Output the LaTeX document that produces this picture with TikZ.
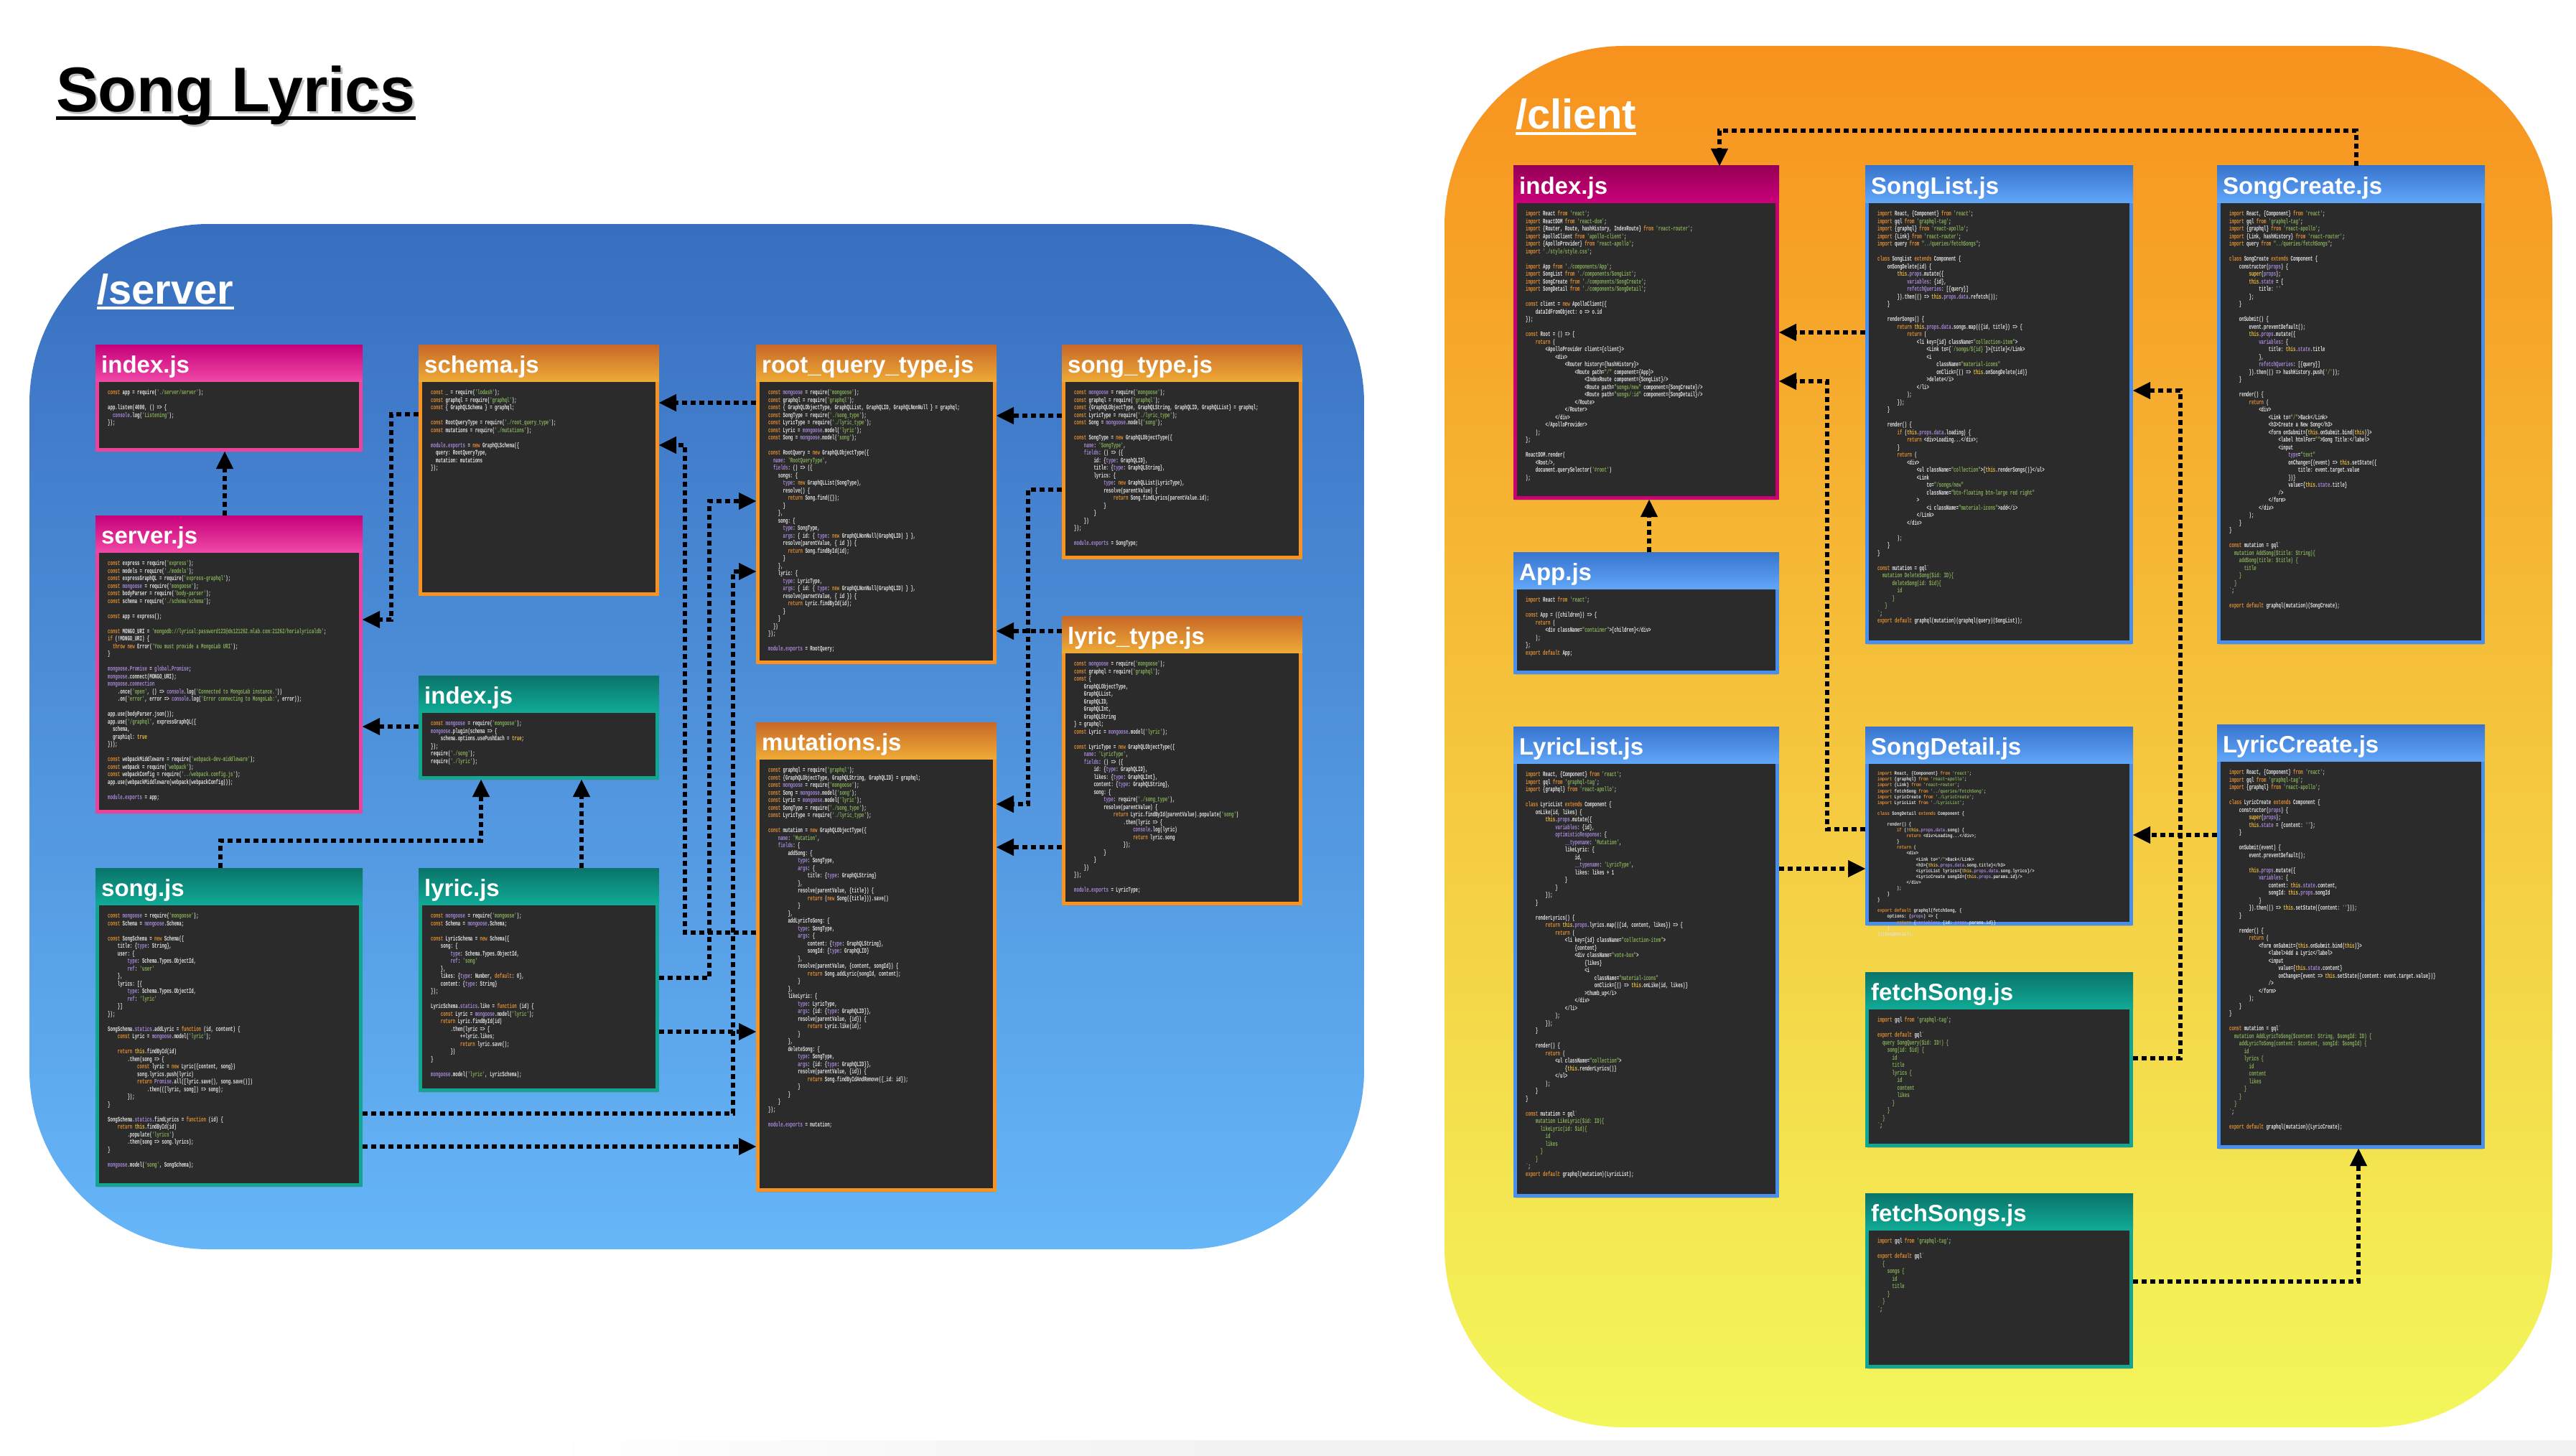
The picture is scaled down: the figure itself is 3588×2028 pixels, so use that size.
\documentclass[tikz,border=0pt]{standalone}
\usepackage{fontspec}
\setmainfont{Liberation Sans}
\setmonofont[FakeStretch=0.6]{Liberation Mono}
\newfontfamily\codesmall[FakeStretch=0.8]{Liberation Mono}
\usepackage{listings}
\usetikzlibrary{arrows.meta,shadows}

% ---------- colours ----------
\definecolor{codebg}{RGB}{43,43,43}
\definecolor{codetext}{RGB}{226,226,226}
\definecolor{codekw}{RGB}{222,140,50}
\definecolor{codethis}{RGB}{236,186,64}
\definecolor{codeprop}{RGB}{166,134,216}
\definecolor{codestr}{RGB}{132,172,88}
\definecolor{srvtop}{RGB}{56,110,191}
\definecolor{srvbot}{RGB}{102,182,248}
\definecolor{clitop}{RGB}{247,146,30}
\definecolor{climid}{RGB}{248,198,48}
\definecolor{clibot}{RGB}{243,247,92}
\definecolor{pinktop}{RGB}{198,0,122}
\definecolor{pinkbot}{RGB}{240,72,166}
\definecolor{pinkline}{RGB}{236,66,156}
\definecolor{plumtop}{RGB}{150,0,86}
\definecolor{plumbot}{RGB}{202,0,122}
\definecolor{plumline}{RGB}{200,0,112}
\definecolor{ambertop}{RGB}{200,104,40}
\definecolor{amberbot}{RGB}{238,170,54}
\definecolor{amberline}{RGB}{247,147,30}
\definecolor{tealtop}{RGB}{10,116,106}
\definecolor{tealbot}{RGB}{16,170,150}
\definecolor{tealline}{RGB}{18,166,146}
\definecolor{bluetop}{RGB}{56,116,206}
\definecolor{bluebot}{RGB}{96,166,248}
\definecolor{blueline}{RGB}{72,142,236}
\definecolor{floorgray}{RGB}{242,242,242}

% ---------- code listings ----------
\lstdefinelanguage{js}{
  morekeywords=[1]{import,from,const,new,return,class,extends,export,default,if,throw,function},
  morekeywords=[2]{this,super,true,false},
  morekeywords=[3]{mongoose,console,module,exports,props,state,data,variables,refetchQueries,
    optimisticResponse,__typename,statics,Promise,global,connection,name,fields,type,args,ref},
  morestring=[b]',
  morestring=[b]",
  morecomment=[s]{`}{`},
  sensitive=true
}
\lstset{
  language=js,
  basicstyle=\ttfamily\bfseries\fontsize{9.5pt}{10.5pt}\selectfont\color{codetext},
  keywordstyle=[1]{\color{codekw}},
  keywordstyle=[2]{\color{codethis}},
  keywordstyle=[3]{\color{codeprop}},
  stringstyle=\color{codestr},
  commentstyle=\color{codestr},
  columns=fixed, basewidth=3.42pt, keepspaces=true,
  showstringspaces=false, breaklines=false,
  aboveskip=0pt, belowskip=0pt, xleftmargin=0pt, frame=none, numbers=none
}

% ---------- one file card: name, x, y, width, height, theme, title, code ----------
\newcommand\filebox[8]{%
  \node[filebody, draw=#6line, minimum width={(#4-5)*1pt}, minimum height={(#5-5)*1pt}]
    (#1) at ({#2+#4/2},{#3+#5/2}) {};
  \node[filehead, top color=#6top, bottom color=#6bot, minimum width=#4pt]
    (#1-head) at (#2,#3) {};
  \node[filetitle] (#1-title) at ({#2+8},{#3+39}) {#7};
  \node[filecode] (#1-code) at ({#2+17},{#3+62}) {\usebox{#8}};
}

\begin{document}

% ================= server code =================
\newsavebox\cdSIndex
\begin{lrbox}{\cdSIndex}\begin{minipage}[t]{360pt}
\begin{lstlisting}
const app = require('./server/server');

app.listen(4000, () => {
  console.log('Listening');
});
\end{lstlisting}
\end{minipage}\end{lrbox}

\newsavebox\cdSServer
\begin{lrbox}{\cdSServer}\begin{minipage}[t]{360pt}
\begin{lstlisting}
const express = require('express');
const models = require('./models');
const expressGraphQL = require('express-graphql');
const mongoose = require('mongoose');
const bodyParser = require('body-parser');
const schema = require('./schema/schema');

const app = express();

const MONGO_URI = 'mongodb://lyrical:password123@ds121262.mlab.com:21262/horialyricaldb';
if (!MONGO_URI) {
  throw new Error('You must provide a MongoLab URI');
}

mongoose.Promise = global.Promise;
mongoose.connect(MONGO_URI);
mongoose.connection
    .once('open', () => console.log('Connected to MongoLab instance.'))
    .on('error', error => console.log('Error connecting to MongoLab:', error));

app.use(bodyParser.json());
app.use('/graphql', expressGraphQL({
  schema,
  graphiql: true
}));

const webpackMiddleware = require('webpack-dev-middleware');
const webpack = require('webpack');
const webpackConfig = require('../webpack.config.js');
app.use(webpackMiddleware(webpack(webpackConfig)));

module.exports = app;
\end{lstlisting}
\end{minipage}\end{lrbox}

\newsavebox\cdSSchema
\begin{lrbox}{\cdSSchema}\begin{minipage}[t]{320pt}
\begin{lstlisting}
const _ = require('lodash');
const graphql = require('graphql');
const { GraphQLSchema } = graphql;

const RootQueryType = require('./root_query_type');
const mutations = require('./mutations');

module.exports = new GraphQLSchema({
  query: RootQueryType,
  mutation: mutations
});
\end{lstlisting}
\end{minipage}\end{lrbox}

\newsavebox\cdSModels
\begin{lrbox}{\cdSModels}\begin{minipage}[t]{320pt}
\begin{lstlisting}
const mongoose = require('mongoose');
mongoose.plugin(schema => {
    schema.options.usePushEach = true;
});
require('./song');
require('./lyric');
\end{lstlisting}
\end{minipage}\end{lrbox}

\newsavebox\cdSSong
\begin{lrbox}{\cdSSong}\begin{minipage}[t]{360pt}
\begin{lstlisting}
const mongoose = require('mongoose');
const Schema = mongoose.Schema;

const SongSchema = new Schema({
    title: {type: String},
    user: {
        type: Schema.Types.ObjectId,
        ref: 'user'
    },
    lyrics: [{
        type: Schema.Types.ObjectId,
        ref: 'lyric'
    }]
});

SongSchema.statics.addLyric = function (id, content) {
    const Lyric = mongoose.model('lyric');

    return this.findById(id)
        .then(song => {
            const lyric = new Lyric({content, song})
            song.lyrics.push(lyric)
            return Promise.all([lyric.save(), song.save()])
                .then(([lyric, song]) => song);
        });
}

SongSchema.statics.findLyrics = function (id) {
    return this.findById(id)
        .populate('lyrics')
        .then(song => song.lyrics);
}

mongoose.model('song', SongSchema);
\end{lstlisting}
\end{minipage}\end{lrbox}

\newsavebox\cdSLyric
\begin{lrbox}{\cdSLyric}\begin{minipage}[t]{320pt}
\begin{lstlisting}
const mongoose = require('mongoose');
const Schema = mongoose.Schema;

const LyricSchema = new Schema({
    song: {
        type: Schema.Types.ObjectId,
        ref: 'song'
    },
    likes: {type: Number, default: 0},
    content: {type: String}
});

LyricSchema.statics.like = function (id) {
    const Lyric = mongoose.model('lyric');
    return Lyric.findById(id)
        .then(lyric => {
            ++lyric.likes;
            return lyric.save();
        })
}

mongoose.model('lyric', LyricSchema);
\end{lstlisting}
\end{minipage}\end{lrbox}

\newsavebox\cdSRoot
\begin{lrbox}{\cdSRoot}\begin{minipage}[t]{320pt}
\begin{lstlisting}
const mongoose = require('mongoose');
const graphql = require('graphql');
const { GraphQLObjectType, GraphQLList, GraphQLID, GraphQLNonNull } = graphql;
const SongType = require('./song_type');
const LyricType = require('./lyric_type');
const Lyric = mongoose.model('lyric');
const Song = mongoose.model('song');

const RootQuery = new GraphQLObjectType({
  name: 'RootQueryType',
  fields: () => ({
    songs: {
      type: new GraphQLList(SongType),
      resolve() {
        return Song.find({});
      }
    },
    song: {
      type: SongType,
      args: { id: { type: new GraphQLNonNull(GraphQLID) } },
      resolve(parentValue, { id }) {
        return Song.findById(id);
      }
    },
    lyric: {
      type: LyricType,
      args: { id: { type: new GraphQLNonNull(GraphQLID) } },
      resolve(parnetValue, { id }) {
        return Lyric.findById(id);
      }
    }
  })
});

module.exports = RootQuery;
\end{lstlisting}
\end{minipage}\end{lrbox}

\newsavebox\cdSMut
\begin{lrbox}{\cdSMut}\begin{minipage}[t]{320pt}
\begin{lstlisting}
const graphql = require('graphql');
const {GraphQLObjectType, GraphQLString, GraphQLID} = graphql;
const mongoose = require('mongoose');
const Song = mongoose.model('song');
const Lyric = mongoose.model('lyric');
const SongType = require('./song_type');
const LyricType = require('./lyric_type');

const mutation = new GraphQLObjectType({
    name: 'Mutation',
    fields: {
        addSong: {
            type: SongType,
            args: {
                title: {type: GraphQLString}
            },
            resolve(parentValue, {title}) {
                return (new Song({title})).save()
            }
        },
        addLyricToSong: {
            type: SongType,
            args: {
                content: {type: GraphQLString},
                songId: {type: GraphQLID}
            },
            resolve(parentValue, {content, songId}) {
                return Song.addLyric(songId, content);
            }
        },
        likeLyric: {
            type: LyricType,
            args: {id: {type: GraphQLID}},
            resolve(parentValue, {id}) {
                return Lyric.like(id);
            }
        },
        deleteSong: {
            type: SongType,
            args: {id: {type: GraphQLID}},
            resolve(parentValue, {id}) {
                return Song.findByIdAndRemove({_id: id});
            }
        }
    }
});

module.exports = mutation;
\end{lstlisting}
\end{minipage}\end{lrbox}

\newsavebox\cdSSongType
\begin{lrbox}{\cdSSongType}\begin{minipage}[t]{320pt}
\begin{lstlisting}
const mongoose = require('mongoose');
const graphql = require('graphql');
const {GraphQLObjectType, GraphQLString, GraphQLID, GraphQLList} = graphql;
const LyricType = require('./lyric_type');
const Song = mongoose.model('song');

const SongType = new GraphQLObjectType({
    name: 'SongType',
    fields: () => ({
        id: {type: GraphQLID},
        title: {type: GraphQLString},
        lyrics: {
            type: new GraphQLList(LyricType),
            resolve(parentValue) {
                return Song.findLyrics(parentValue.id);
            }
        }
    })
});

module.exports = SongType;
\end{lstlisting}
\end{minipage}\end{lrbox}

\newsavebox\cdSLyricType
\begin{lrbox}{\cdSLyricType}\begin{minipage}[t]{320pt}
\begin{lstlisting}
const mongoose = require('mongoose');
const graphql = require('graphql');
const {
    GraphQLObjectType,
    GraphQLList,
    GraphQLID,
    GraphQLInt,
    GraphQLString
} = graphql;
const Lyric = mongoose.model('lyric');

const LyricType = new GraphQLObjectType({
    name: 'LyricType',
    fields: () => ({
        id: {type: GraphQLID},
        likes: {type: GraphQLInt},
        content: {type: GraphQLString},
        song: {
            type: require('./song_type'),
            resolve(parentValue) {
                return Lyric.findById(parentValue).populate('song')
                    .then(lyric => {
                        console.log(lyric)
                        return lyric.song
                    });
            }
        }
    })
});

module.exports = LyricType;
\end{lstlisting}
\end{minipage}\end{lrbox}

% ================= client code =================
\newsavebox\cdCIndex
\begin{lrbox}{\cdCIndex}\begin{minipage}[t]{360pt}
\begin{lstlisting}
import React from 'react';
import ReactDOM from 'react-dom';
import {Router, Route, hashHistory, IndexRoute} from 'react-router';
import ApolloClient from 'apollo-client';
import {ApolloProvider} from 'react-apollo';
import './style/style.css';

import App from './components/App';
import SongList from './components/SongList';
import SongCreate from './components/SongCreate';
import SongDetail from './components/SongDetail';

const client = new ApolloClient({
    dataIdFromObject: o => o.id
});

const Root = () => {
    return (
        <ApolloProvider client={client}>
            <div>
                <Router history={hashHistory}>
                    <Route path="/" component={App}>
                        <IndexRoute component={SongList}/>
                        <Route path="songs/new" component={SongCreate}/>
                        <Route path="songs/:id" component={SongDetail}/>
                    </Route>
                </Router>
            </div>
        </ApolloProvider>
    );
};

ReactDOM.render(
    <Root/>,
    document.querySelector('#root')
);
\end{lstlisting}
\end{minipage}\end{lrbox}

\newsavebox\cdCSongList
\begin{lrbox}{\cdCSongList}\begin{minipage}[t]{360pt}
\begin{lstlisting}
import React, {Component} from 'react';
import gql from 'graphql-tag';
import {graphql} from 'react-apollo';
import {Link} from 'react-router';
import query from "../queries/fetchSongs";

class SongList extends Component {
    onSongDelete(id) {
        this.props.mutate({
            variables: {id},
            refetchQueries: [{query}]
        }).then(() => this.props.data.refetch());
    }

    renderSongs() {
        return this.props.data.songs.map(({id, title}) => {
            return (
                <li key={id} className="collection-item">
                    <Link to={`/songs/${id}`}>{title}</Link>
                    <i
                        className="material-icons"
                        onClick={() => this.onSongDelete(id)}
                    >delete</i>
                </li>
            );
        });
    }

    render() {
        if (this.props.data.loading) {
            return <div>Loading...</div>;
        }
        return (
            <div>
                <ul className="collection">{this.renderSongs()}</ul>
                <Link
                    to="/songs/new"
                    className="btn-floating btn-large red right"
                >
                    <i className="material-icons">add</i>
                </Link>
            </div>

        );
    }
}

const mutation = gql`
  mutation DeleteSong($id: ID){
      deleteSong(id: $id){
        id
      }
   }
`;
export default graphql(mutation)(graphql(query)(SongList));
\end{lstlisting}
\end{minipage}\end{lrbox}

\newsavebox\cdCSongCreate
\begin{lrbox}{\cdCSongCreate}\begin{minipage}[t]{360pt}
\begin{lstlisting}
import React, {Component} from 'react';
import gql from 'graphql-tag';
import {graphql} from 'react-apollo';
import {Link, hashHistory} from 'react-router';
import query from "../queries/fetchSongs";

class SongCreate extends Component {
    constructor(props) {
        super(props);
        this.state = {
            title: ''
        };
    }

    onSubmit() {
        event.preventDefault();
        this.props.mutate({
            variables: {
                title: this.state.title
            },
            refetchQueries: [{query}]
        }).then(() => hashHistory.push('/'));
    }

    render() {
        return (
            <div>
                <Link to="/">Back</Link>
                <h3>Create a New Song</h3>
                <form onSubmit={this.onSubmit.bind(this)}>
                    <label htmlFor="">Song Title:</label>
                    <input
                        type="text"
                        onChange={(event) => this.setState({
                            title: event.target.value
                        })}
                        value={this.state.title}
                    />
                </form>
            </div>
        );
    }
}

const mutation = gql`
  mutation AddSong($title: String){
    addSong(title: $title) {
      title
    }
  }
`;

export default graphql(mutation)(SongCreate);
\end{lstlisting}
\end{minipage}\end{lrbox}

\newsavebox\cdCApp
\begin{lrbox}{\cdCApp}\begin{minipage}[t]{360pt}
\begin{lstlisting}
import React from 'react';

const App = ({children}) => {
    return (
        <div className="container">{children}</div>
    );
};
export default App;
\end{lstlisting}
\end{minipage}\end{lrbox}

\newsavebox\cdCLyricList
\begin{lrbox}{\cdCLyricList}\begin{minipage}[t]{360pt}
\begin{lstlisting}
import React, {Component} from 'react';
import gql from 'graphql-tag';
import {graphql} from 'react-apollo';

class LyricList extends Component {
    onLike(id, likes) {
        this.props.mutate({
            variables: {id},
            optimisticResponse: {
                __typename: 'Mutation',
                likeLyric: {
                    id,
                    __typename: 'LyricType',
                    likes: likes + 1
                }
            }
        });
    }

    renderLyrics() {
        return this.props.lyrics.map(({id, content, likes}) => {
            return (
                <li key={id} className="collection-item">
                    {content}
                    <div className="vote-box">
                        {likes}
                        <i
                            className="material-icons"
                            onClick={() => this.onLike(id, likes)}
                        >thumb_up</i>
                    </div>
                </li>
            );
        });
    }

    render() {
        return (
            <ul className="collection">
                {this.renderLyrics()}
            </ul>
        );
    }
}

const mutation = gql`
    mutation LikeLyric($id: ID){
      likeLyric(id: $id){
        id
        likes
      }
    }
`;
export default graphql(mutation)(LyricList);
\end{lstlisting}
\end{minipage}\end{lrbox}

\newsavebox\cdCSongDetail
\begin{lrbox}{\cdCSongDetail}\begin{minipage}[t]{360pt}
\begin{lstlisting}[basicstyle=\codesmall\bfseries\fontsize{7pt}{6.8pt}\selectfont\color{codetext},basewidth=3.36pt]
import React, {Component} from 'react';
import {graphql} from 'react-apollo';
import {Link} from 'react-router';
import fetchSong from '../queries/fetchSong';
import LyricCreate from './LyricCreate';
import LyricList from './LyricList';

class SongDetail extends Component {

    render() {
        if (!this.props.data.song) {
            return <div>Loading...</div>;
        }
        return (
            <div>
                <Link to="/">Back</Link>
                <h3>{this.props.data.song.title}</h3>
                <LyricList lyrics={this.props.data.song.lyrics}/>
                <LyricCreate songId={this.props.params.id}/>
            </div>
        );
    }
}

export default graphql(fetchSong, {
    options: (props) => {
        return {variables: {id: props.params.id}}
    }
})(SongDetail);
\end{lstlisting}
\end{minipage}\end{lrbox}

\newsavebox\cdCLyricCreate
\begin{lrbox}{\cdCLyricCreate}\begin{minipage}[t]{360pt}
\begin{lstlisting}
import React, {Component} from 'react';
import gql from 'graphql-tag';
import {graphql} from 'react-apollo';

class LyricCreate extends Component {
    constructor(props) {
        super(props);
        this.state = {content: ''};
    }

    onSubmit(event) {
        event.preventDefault();

        this.props.mutate({
            variables: {
                content: this.state.content,
                songId: this.props.songId
            }
        }).then(() => this.setState({content: ''}));
    }

    render() {
        return (
            <form onSubmit={this.onSubmit.bind(this)}>
                <label>Add a Lyric</label>
                <input
                    value={this.state.content}
                    onChange={event => this.setState({content: event.target.value})}
                />
            </form>
        );
    }
}

const mutation = gql`
  mutation AddLyricToSong($content: String, $songId: ID) {
    addLyricToSong(content: $content, songId: $songId) {
      id
      lyrics {
        id
        content
        likes
      }
    }
  }
`;

export default graphql(mutation)(LyricCreate);
\end{lstlisting}
\end{minipage}\end{lrbox}

\newsavebox\cdCFetchSong
\begin{lrbox}{\cdCFetchSong}\begin{minipage}[t]{360pt}
\begin{lstlisting}
import gql from 'graphql-tag';

export default gql`
  query SongQuery($id: ID!) {
    song(id: $id) {
      id
      title
      lyrics {
        id
        content
        likes
      }
    }
  }
`;
\end{lstlisting}
\end{minipage}\end{lrbox}

\newsavebox\cdCFetchSongs
\begin{lrbox}{\cdCFetchSongs}\begin{minipage}[t]{360pt}
\begin{lstlisting}
import gql from 'graphql-tag';

export default gql`
  {
    songs {
      id
      title
    }
  }
`;
\end{lstlisting}
\end{minipage}\end{lrbox}

\begin{tikzpicture}[x=1pt, y=-1pt,
  filebody/.style={fill=codebg, line width=5pt, inner sep=0pt,
    drop shadow={shadow xshift=0pt, shadow yshift=-3pt, opacity=0.35}},
  filehead/.style={anchor=north west, minimum height=51pt, inner sep=0pt, outer sep=0pt},
  filetitle/.style={anchor=base west, inner sep=0pt, text=white,
    font=\bfseries\fontsize{33pt}{33pt}\selectfont},
  filecode/.style={anchor=north west, inner sep=0pt},
  titletext/.style={anchor=base west, inner sep=0pt,
    font=\bfseries\fontsize{88pt}{88pt}\selectfont},
  folder/.style={anchor=base west, inner sep=0pt, text=white,
    font=\bfseries\fontsize{58pt}{58pt}\selectfont},
  dep/.style={line width=6pt, dash pattern=on 7pt off 5pt,
    -{Triangle[length=24pt, width=24pt, line width=0.5pt]}}
]
\useasboundingbox (0,0) rectangle (3588,2028);
\fill[white] (0,0) rectangle (3588,2028);
% faint floor strip along the bottom edge, fading in from the left
\shade[left color=white, right color=floorgray] (760,2006) rectangle (1700,2028);
\fill[floorgray] (1700,2006) rectangle (3588,2028);

% ---------- title ----------
\node[titletext, text=black, opacity=0.25] (titleshade) at (81,159) {Song Lyrics};
\node[titletext] (title) at (78,156) {Song Lyrics};
\draw[line width=5pt] ([yshift=-9pt]title.base west) -- ([yshift=-9pt]title.base east);

% ---------- the two folders ----------
\shade[top color=srvtop, bottom color=srvbot, rounded corners=250pt]
  (41,312) rectangle (1900,1740);
\shade[top color=clitop, middle color=climid, bottom color=clibot, rounded corners=250pt]
  (2012,64) rectangle (3555,1988);

\node[folder] (srvlabel) at (135,423) {/server};
\draw[white, line width=4pt] ([yshift=-6pt]srvlabel.base west) -- ([yshift=-6pt]srvlabel.base east);
\node[folder] (clilabel) at (2111,180) {/client};
\draw[white, line width=4pt] ([yshift=-6pt]clilabel.base west) -- ([yshift=-6pt]clilabel.base east);

% ---------- server files ----------
\filebox{sindex}{133}{480}{372}{149}{pink}{index.js}{\cdSIndex}
\filebox{sserver}{133}{718}{372}{415}{pink}{server.js}{\cdSServer}
\filebox{sschema}{583}{480}{335}{350}{amber}{schema.js}{\cdSSchema}
\filebox{smodels}{583}{941}{335}{145}{teal}{index.js}{\cdSModels}
\filebox{ssong}{133}{1209}{372}{444}{teal}{song.js}{\cdSSong}
\filebox{slyric}{583}{1209}{335}{312}{teal}{lyric.js}{\cdSLyric}
\filebox{srootq}{1053}{480}{335}{445}{amber}{root\_query\_type.js}{\cdSRoot}
\filebox{smut}{1053}{1006}{335}{654}{amber}{mutations.js}{\cdSMut}
\filebox{ssongtype}{1479}{480}{335}{299}{amber}{song\_type.js}{\cdSSongType}
\filebox{slyrictype}{1479}{858}{335}{403}{amber}{lyric\_type.js}{\cdSLyricType}

% ---------- client files ----------
\filebox{cindex}{2108}{231}{370}{465}{plum}{index.js}{\cdCIndex}
\filebox{csonglist}{2598}{231}{373}{666}{blue}{SongList.js}{\cdCSongList}
\filebox{csongcreate}{3088}{231}{373}{666}{blue}{SongCreate.js}{\cdCSongCreate}
\filebox{capp}{2108}{769}{370}{170}{blue}{App.js}{\cdCApp}
\filebox{clyriclist}{2108}{1012}{370}{656}{blue}{LyricList.js}{\cdCLyricList}
\filebox{csongdetail}{2598}{1012}{373}{277}{blue}{SongDetail.js}{\cdCSongDetail}
\filebox{clyriccreate}{3088}{1009}{373}{591}{blue}{LyricCreate.js}{\cdCLyricCreate}
\filebox{cfetchsong}{2598}{1354}{373}{244}{teal}{fetchSong.js}{\cdCFetchSong}
\filebox{cfetchsongs}{2598}{1662}{373}{244}{teal}{fetchSongs.js}{\cdCFetchSongs}

% ---------- server dependencies ----------
\draw[dep] (sserver.north -| 313,0) -- (sindex.south -| 313,0);
\draw[dep] (sschema.west |- 0,577) -- ++(-38,0) |- (sserver.east |- 0,863);
\draw[dep] (smodels.west |- 0,1012) -- (sserver.east |- 0,1012);
\draw[dep] (ssong.north -| 307,0) -- (307,1171) -| (smodels.south -| 670,0);
\draw[dep] (slyric.north -| 810,0) -- (smodels.south -| 810,0);
\draw[dep] (srootq.west |- 0,561) -- (sschema.east |- 0,561);
\draw[dep] (smut.west |- 0,1299) -- (954,1299) |- (sschema.east |- 0,620);
\draw[dep] (slyric.east |- 0,1362) -- (988,1362) |- (srootq.west |- 0,698);
\draw[dep] (ssong.east |- 0,1551) -- (1021,1551) |- (srootq.west |- 0,796);
\draw[dep] (slyric.east |- 0,1437) -- (smut.west |- 0,1437);
\draw[dep] (ssong.east |- 0,1597) -- (smut.west |- 0,1597);
\draw[dep] (ssongtype.west |- 0,579) -- (srootq.east |- 0,579);
\draw[dep] (ssongtype.west |- 0,682) -- (1432,682) |- (smut.east |- 0,1120);
\draw[dep] (slyrictype.west |- 0,879) -- (srootq.east |- 0,879);
\draw[dep] (slyrictype.west |- 0,1180) -- (smut.east |- 0,1180);

% ---------- client dependencies ----------
\draw[dep] (csongcreate.north -| 3282,0) -- (3282,182) -| (cindex.north -| 2395,0);
\draw[dep] (csonglist.west |- 0,463) -- (cindex.east |- 0,463);
\draw[dep] (csongdetail.west |- 0,1155) -- (2545,1155) |- (cindex.east |- 0,531);
\draw[dep] (capp.north -| 2297,0) -- (cindex.south -| 2297,0);
\draw[dep] (clyriclist.east |- 0,1210) -- (csongdetail.west |- 0,1210);
\draw[dep] (clyriccreate.west |- 0,1163) -- (csongdetail.east |- 0,1163);
\draw[dep] (cfetchsong.east |- 0,1474) -- (3037,1474) |- (csonglist.east |- 0,544);
\draw[dep] (cfetchsongs.east |- 0,1785) -| (clyriccreate.south -| 3285,0);
\end{tikzpicture}
\end{document}
